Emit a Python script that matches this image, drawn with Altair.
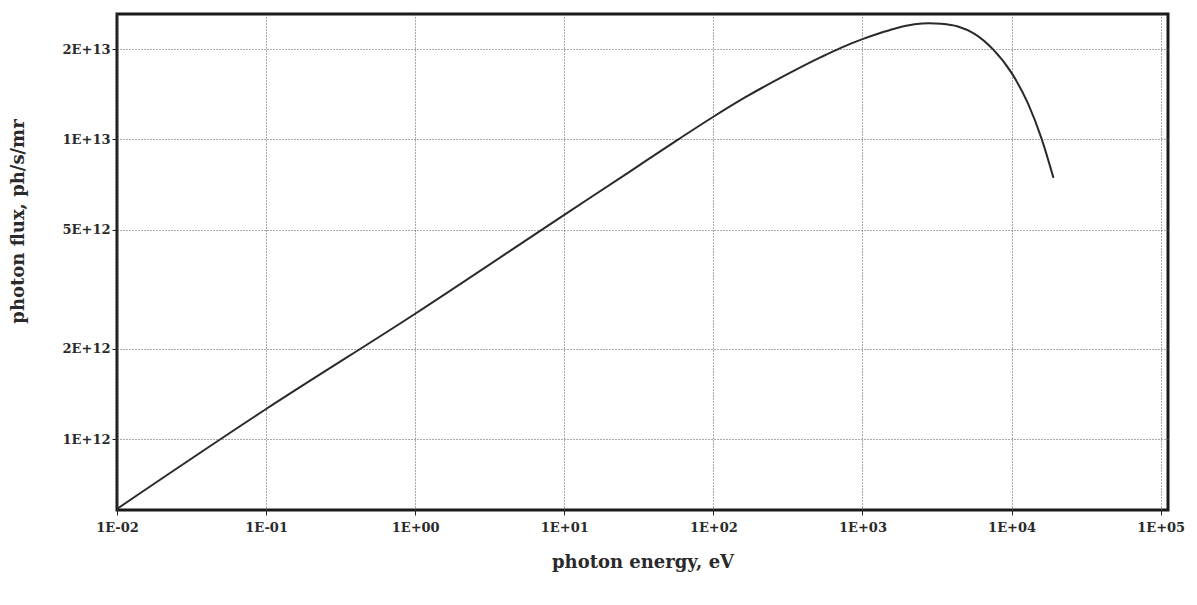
import altair as alt
import pandas as pd

# curve
energy_ev = [0.01, 0.1, 1, 10, 26.9, 58.2, 100, 163, 314, 526, 716, 1000,
             1300, 1640, 2234, 2800, 3375, 4363, 5646, 7489, 10000, 12900,
             15850, 19100]
flux = [5.85e11, 1.26e12, 2.62e12, 5.6e12, 7.75e12, 1.0e13, 1.19e13, 1.38e13,
        1.65e13, 1.88e13, 2.02e13, 2.16e13, 2.26e13, 2.34e13, 2.42e13, 2.44e13,
        2.43e13, 2.38e13, 2.25e13, 2.0e13, 1.667e13, 1.316e13, 1.01e13, 7.44e12]

x_tick_values = [0.01, 0.1, 1, 10, 100, 1000, 10000, 100000]
x_tick_labels = ["1E-02", "1E-01", "1E+00", "1E+01", "1E+02", "1E+03", "1E+04", "1E+05"]
y_tick_values = [1e12, 2e12, 5e12, 1e13, 2e13]
y_tick_labels = ["1E+12", "2E+12", "5E+12", "1E+13", "2E+13"]

x_domain = [0.01, 1.12e5]
y_domain = [5.8e11, 2.62e13]


def label_expr(values, labels):
    expr = "''"
    for v, lab in reversed(list(zip(values, labels))):
        expr = f"(abs(datum.value - {v!r}) <= {v!r} * 0.01) ? '{lab}' : " + expr
    return expr


df = pd.DataFrame({"energy": energy_ev, "flux": flux})

FONT = "DejaVu Serif"

line = alt.Chart(df).mark_line(
    color="#2a2a2a", strokeWidth=2, interpolate="monotone", clip=True
).encode(
    x=alt.X(
        "energy:Q",
        scale=alt.Scale(type="log", domain=x_domain, nice=False),
        axis=alt.Axis(
            values=x_tick_values,
            labelExpr=label_expr(x_tick_values, x_tick_labels),
            title="photon energy, eV",
            titleY=52,
            titleBaseline="middle",
            grid=True,
            gridColor="#555555",
            gridDash=[1, 2],
            gridWidth=1,
            domain=False,
            ticks=True,
            tickSize=5,
            tickColor="#222222",
            labelPadding=6,
            labelFlush=False,
            labelOverlap=False,
        ),
    ),
    y=alt.Y(
        "flux:Q",
        scale=alt.Scale(type="log", domain=y_domain, nice=False),
        axis=alt.Axis(
            values=y_tick_values,
            labelExpr=label_expr(y_tick_values, y_tick_labels),
            title="photon flux, ph/s/mr",
            titleX=-99,
            titleY=207,
            titleAngle=270,
            titleAlign="center",
            titleBaseline="middle",
            grid=True,
            gridColor="#555555",
            gridDash=[1, 2],
            gridWidth=1,
            domain=False,
            ticks=True,
            tickSize=5,
            tickColor="#222222",
            labelPadding=2,
            labelFlush=False,
            labelOverlap=False,
        ),
    ),
)

chart = line.properties(
    width=1051,
    height=496,
    autosize=alt.AutoSizeParams(type="none"),
    padding={"left": 117, "top": 14, "right": 29, "bottom": 95},
    background="white",
).configure_view(
    stroke="#1a1a1a", strokeWidth=3
).configure_axis(
    labelFont=FONT,
    labelFontWeight="bold",
    labelFontSize=13,
    labelColor="#2a2a2a",
    titleFont=FONT,
    titleFontWeight="bold",
    titleFontSize=18,
    titleColor="#2a2a2a",
)

chart.save("out.html", embed_options={"renderer": "svg", "actions": False})
